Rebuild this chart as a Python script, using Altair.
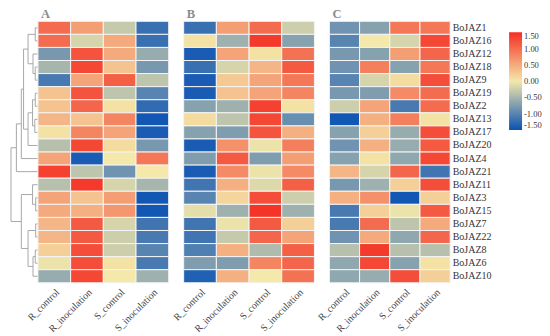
import altair as alt
import pandas as pd

genes = ["BoJAZ1", "BoJAZ16", "BoJAZ12", "BoJAZ18", "BoJAZ9", "BoJAZ19", "BoJAZ2",
         "BoJAZ13", "BoJAZ17", "BoJAZ20", "BoJAZ4", "BoJAZ21", "BoJAZ11", "BoJAZ3",
         "BoJAZ15", "BoJAZ7", "BoJAZ22", "BoJAZ8", "BoJAZ6", "BoJAZ10"]
conditions = ["R_control", "R_inoculation", "S_control", "S_inoculation"]

panel_a = [
    [1.0, 0.6, -0.3, -1.2], [1.0, -0.2, 0.5, -1.2], [-0.8, 1.2, 0.5, -0.6],
    [-0.5, 1.3, 0.3, -0.8], [-1.1, 0.55, 1.1, -0.35], [0.3, 1.2, -0.35, -1.0],
    [0.3, 1.05, 0.05, -1.25], [0.4, 0.3, 0.8, -1.45], [0.05, 0.8, 0.55, -1.4],
    [-0.4, 1.3, 0.1, -0.8], [0.55, -1.4, 0.0, 0.9], [1.35, -0.35, -0.85, 0.0],
    [-0.4, 1.4, -0.2, -0.5], [0.55, 0.3, 0.6, -1.45], [0.5, 0.45, 0.65, -1.45],
    [0.4, 1.15, -0.2, -1.15], [0.4, 1.15, -0.25, -1.1], [0.2, 1.25, -0.25, -1.0],
    [-0.05, 1.25, 0.05, -1.1], [-0.6, 1.3, 0.0, -0.55],
]
panel_b = [
    [-1.2, 0.6, 1.0, -0.25], [0.05, -0.55, 1.4, -0.7], [-1.4, 0.55, 0.05, 0.95],
    [-1.2, -0.2, 0.4, 1.15], [-1.4, 0.25, 0.55, 0.9], [-1.4, 0.3, 0.55, 0.8],
    [-0.7, -0.55, 1.35, 0.05], [0.1, -0.35, 1.3, -0.9], [-0.7, -0.75, 1.2, 0.45],
    [-1.4, 0.7, -0.05, 0.85], [-0.75, 1.15, -0.75, 0.6], [-1.4, 0.75, -0.05, 0.75],
    [-1.15, 0.45, -0.15, 1.1], [-1.0, 0.15, 1.25, -0.25], [-0.1, -0.55, 1.45, -0.55],
    [-1.15, -0.05, 1.15, 0.2], [-1.15, -0.3, 1.05, 0.55], [-1.05, 0.45, -0.45, 1.1],
    [-0.75, -0.75, 0.8, 1.05], [-1.35, 0.45, 0.0, 0.95],
]
panel_c = [
    [-0.85, -0.7, 0.9, 0.9], [-1.0, 0.0, -0.2, 1.3], [-0.8, -0.7, 0.6, 1.05],
    [-0.85, 0.85, -0.7, 0.9], [-1.0, -0.2, 0.1, 1.25], [-0.8, -0.75, 0.75, 1.0],
    [-0.25, 0.55, -1.1, 1.0], [-1.45, 0.45, 0.85, 0.05], [-0.7, 0.2, -0.6, 1.25],
    [-0.85, 0.45, -0.6, 1.15], [-0.7, 0.05, -0.65, 1.3], [0.4, -0.2, 1.05, -1.15],
    [-0.8, -0.55, 0.2, 1.25], [0.45, 0.7, -1.45, 0.2], [-1.1, 0.2, -0.05, 1.15],
    [-1.1, 1.0, -0.35, 0.5], [-0.85, 0.5, -0.65, 1.05], [-0.4, 1.4, -0.4, -0.4],
    [-0.65, 1.3, -0.7, 0.05], [-0.65, -0.6, 1.25, 0.2],
]

# dendrogram merges: (node a, node b, height); leaves 0..19, new clusters 20..
merges = [
    (0, 1, 0.3), (3, 4, 0.3), (2, 21, 0.55), (20, 22, 1.1),
    (5, 6, 0.3), (7, 8, 0.35), (24, 25, 0.6), (26, 9, 1.1),
    (23, 27, 1.6), (28, 10, 1.85), (29, 11, 2.4),
    (13, 14, 0.25), (12, 31, 0.6), (15, 16, 0.25), (17, 18, 0.3),
    (34, 19, 0.55), (33, 35, 1.1), (32, 36, 1.85), (30, 37, 3.0),
]
legend_ticks = [1.5, 1.0, 0.5, 0.0, -0.5, -1.0, -1.5]

# ---- build dendrogram segments
pos = {i: (i + 0.5, 0.0) for i in range(len(genes))}
segs = []
for k, (a, b, h) in enumerate(merges):
    ya, ha = pos[a]
    yb, hb = pos[b]
    segs.append({"x": h, "x2": h, "y": ya, "y2": yb})
    segs.append({"x": ha, "x2": h, "y": ya, "y2": ya})
    segs.append({"x": hb, "x2": h, "y": yb, "y2": yb})
    pos[len(genes) + k] = ((ya + yb) / 2, h)
dendro_df = pd.DataFrame(segs)

H = 262
GAP = 15
DW = 27
serif = "Liberation Serif, Times New Roman, serif"

dendro = alt.Chart(dendro_df).mark_rule(color="#a8a8a8", strokeWidth=1).encode(
    x=alt.X("x:Q", scale=alt.Scale(domain=[3.0, 0], range=[0, DW], nice=False, zero=False), axis=None),
    x2="x2:Q",
    y=alt.Y("y:Q", scale=alt.Scale(domain=[0, len(genes)], reverse=True, nice=False, zero=False), axis=None),
    y2="y2:Q",
).properties(width=DW - GAP, height=H)

color_scale = alt.Scale(domain=[-1.5, 0, 1.5], range=["#0a52b4", "#f4e8aa", "#f42e22"],
                        interpolate="rgb", clamp=True)


def heat(values, letter, width, show_y):
    rows = []
    for g, vals in zip(genes, values):
        for c, v in zip(conditions, vals):
            rows.append({"gene": g, "condition": c, "value": v})
    df = pd.DataFrame(rows)
    yaxis = alt.Axis(orient="right", labelFont=serif, labelFontSize=10, labelColor="#333",
                     labelPadding=2, ticks=False, domain=False, title=None) if show_y else None
    return alt.Chart(df, title=alt.TitleParams(letter, anchor="start", frame="group", font=serif,
                                                fontSize=12.5, fontWeight="bold", color="#8c8c8c",
                                                offset=0, dx=3)
                     ).mark_rect(stroke="#f4f4f4", strokeWidth=1).encode(
        x=alt.X("condition:N", sort=conditions,
                axis=alt.Axis(labelAngle=-45, labelFont=serif, labelFontSize=10, labelColor="#444",
                              ticks=False, domain=False, title=None, labelPadding=4)),
        y=alt.Y("gene:N", sort=genes, axis=yaxis),
        color=alt.Color("value:Q", scale=color_scale,
                        legend=alt.Legend(title=None, values=legend_ticks, gradientLength=98,
                                          gradientThickness=13, labelFont=serif, labelFontSize=8.5,
                                          labelColor="#333", gradientStrokeWidth=0,
                                          labelExpr="replace(format(datum.value, '.2f'), '\u2212', '-')")),
    ).properties(width=width, height=H)


chart = alt.hconcat(dendro, heat(panel_a, "A", 131, False), heat(panel_b, "B", 131, False),
                    heat(panel_c, "C", 121, True),
                    spacing=GAP, bounds="flush").resolve_scale(color="shared").properties(
    padding={"left": 2, "top": 0, "right": 0, "bottom": 0}).configure_view(
    stroke=None).configure_legend(orient="none", legendX=499, legendY=11)

chart.save("out.html", embed_options={"renderer": "svg", "actions": False})
